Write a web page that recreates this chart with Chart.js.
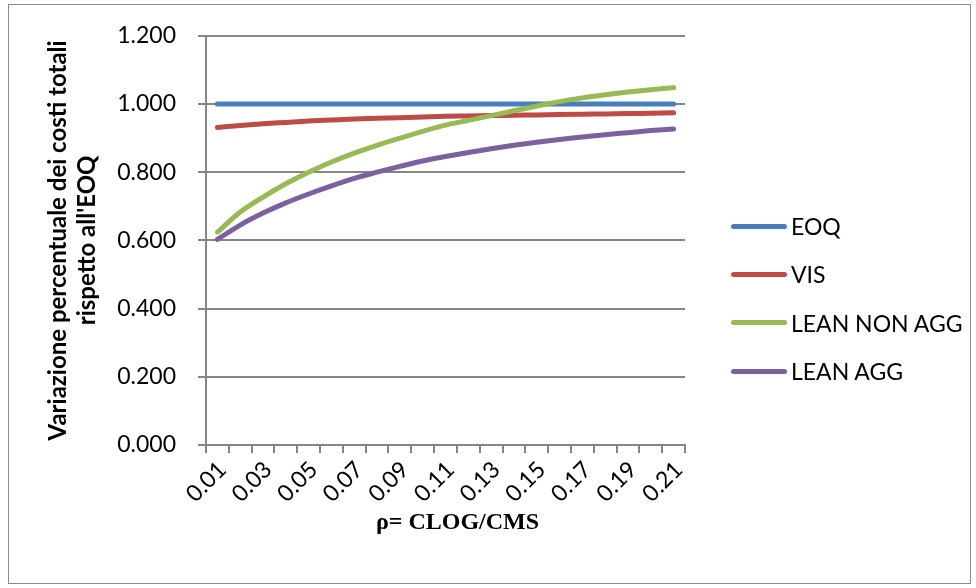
<!DOCTYPE html>
<html>
<head>
<meta charset="utf-8">
<script src="https://cdn.jsdelivr.net/npm/chart.js@4"></script>
<style>
  body { margin: 0; background: #fff; }
  #wrap { position: relative; width: 976px; height: 588px; }
  #frame {
    position: absolute; left: 8px; top: 4px; width: 961px; height: 578px;
    border: 1.5px solid #8c8c8c; pointer-events: none;
  }
  #legend {
    position: absolute; left: 731px; top: 202px; margin: 0; padding: 0;
    list-style: none; font-family: Lato, sans-serif; font-size: 23px; color: #000;
  }
  #legend li { height: 48.3px; display: flex; align-items: center; }
  #legend .swatch { width: 56px; height: 5px; border-radius: 3px; margin-right: 4px; }
</style>
</head>
<body>
<div id="wrap">
  <canvas id="chart" width="976" height="588"></canvas>
  <div id="frame"></div>
  <ul id="legend"></ul>
</div>
<script>
  const rho = ["0.01", "0.02", "0.03", "0.04", "0.05", "0.06", "0.07", "0.08", "0.09", "0.10", "0.11",
    "0.12", "0.13", "0.14", "0.15", "0.16", "0.17", "0.18", "0.19", "0.20", "0.21"];

  const eoq = [1.000, 1.000, 1.000, 1.000, 1.000, 1.000, 1.000, 1.000, 1.000, 1.000, 1.000,
    1.000, 1.000, 1.000, 1.000, 1.000, 1.000, 1.000, 1.000, 1.000, 1.000];
  const vis = [0.931, 0.937, 0.942, 0.946, 0.950, 0.953, 0.956, 0.958, 0.960, 0.962, 0.964,
    0.965, 0.966, 0.967, 0.968, 0.969, 0.970, 0.971, 0.972, 0.973, 0.974];
  const leanNonAgg = [0.624, 0.683, 0.727, 0.766, 0.800, 0.830, 0.856, 0.879, 0.900, 0.920, 0.938,
    0.952, 0.966, 0.980, 0.994, 1.007, 1.018, 1.027, 1.035, 1.042, 1.048];
  const leanAgg = [0.603, 0.645, 0.680, 0.710, 0.736, 0.760, 0.782, 0.800, 0.817, 0.833, 0.846,
    0.858, 0.869, 0.879, 0.888, 0.896, 0.903, 0.910, 0.916, 0.922, 0.927];

  const seriesNames = ["EOQ", "VIS", "LEAN NON AGG", "LEAN AGG"];
  const seriesColors = ["#4a7ebb", "#be4b48", "#98b954", "#7d60a0"];
  const yTicks = [0, 0.2, 0.4, 0.6, 0.8, 1.0, 1.2];

  const gridColor = "#868686";
  const tickFont = { family: "Lato, sans-serif", size: 23 };

  const makeSeries = (i, values) => ({
    label: seriesNames[i],
    data: values,
    borderColor: seriesColors[i],
    backgroundColor: seriesColors[i],
    borderWidth: 5,
    borderCapStyle: "round",
    borderJoinStyle: "round",
    pointRadius: 0,
    cubicInterpolationMode: "monotone",
    order: 4 - i, // later series sit on top
  });

  new Chart(document.getElementById("chart"), {
    type: "line",
    data: {
      labels: rho,
      datasets: [
        makeSeries(0, eoq),
        makeSeries(1, vis),
        makeSeries(2, leanNonAgg),
        makeSeries(3, leanAgg),
      ],
    },
    options: {
      responsive: false,
      animation: false,
      layout: { padding: { top: 34, right: 291, bottom: 0, left: 0 } },
      plugins: { legend: { display: false }, tooltip: { enabled: false } },
      scales: {
        x: {
          offset: true,
          grid: { offset: true, drawOnChartArea: false, drawTicks: true, tickLength: 8, color: gridColor, lineWidth: 2 },
          border: { color: gridColor, width: 2 },
          ticks: {
            autoSkip: false,
            maxRotation: 45,
            minRotation: 45,
            padding: 3,
            labelOffset: 5,
            color: "#000",
            font: tickFont,
            callback: (v, i) => (i % 2 === 0 ? rho[i] : ""),
          },
          title: {
            display: true,
            text: "\u2003ρ= CLOG/CMS", // em space nudges the title a little right
            color: "#000",
            font: { family: "'Liberation Serif', serif", size: 24, weight: "bold" },
            padding: { bottom: 51 },
          },
          afterFit: (s) => { s.height = 143; },
        },
        y: {
          min: 0,
          max: 1.2,
          afterBuildTicks: (s) => { s.ticks = yTicks.map((v) => ({ value: v })); },
          grid: { color: gridColor, lineWidth: 2, tickLength: 8 },
          border: { color: gridColor, width: 2 },
          ticks: {
            padding: 22,
            color: "#000",
            font: tickFont,
            callback: (v) => v.toFixed(3),
          },
          title: {
            display: true,
            text: ["Variazione percentuale dei costi totali", "rispetto all'EOQ"],
            color: "#000",
            font: { family: "Lato, sans-serif", size: 24, weight: "bold", lineHeight: 1.2 },
            padding: { top: 44 },
          },
          afterFit: (s) => { s.width = 206; },
        },
      },
    },
  });

  // legend list built from the series names and colours
  const legend = document.getElementById("legend");
  seriesNames.forEach((name, i) => {
    const li = document.createElement("li");
    li.innerHTML = `<span class="swatch" style="background:${seriesColors[i]}"></span>${name}`;
    legend.appendChild(li);
  });
</script>
</body>
</html>
